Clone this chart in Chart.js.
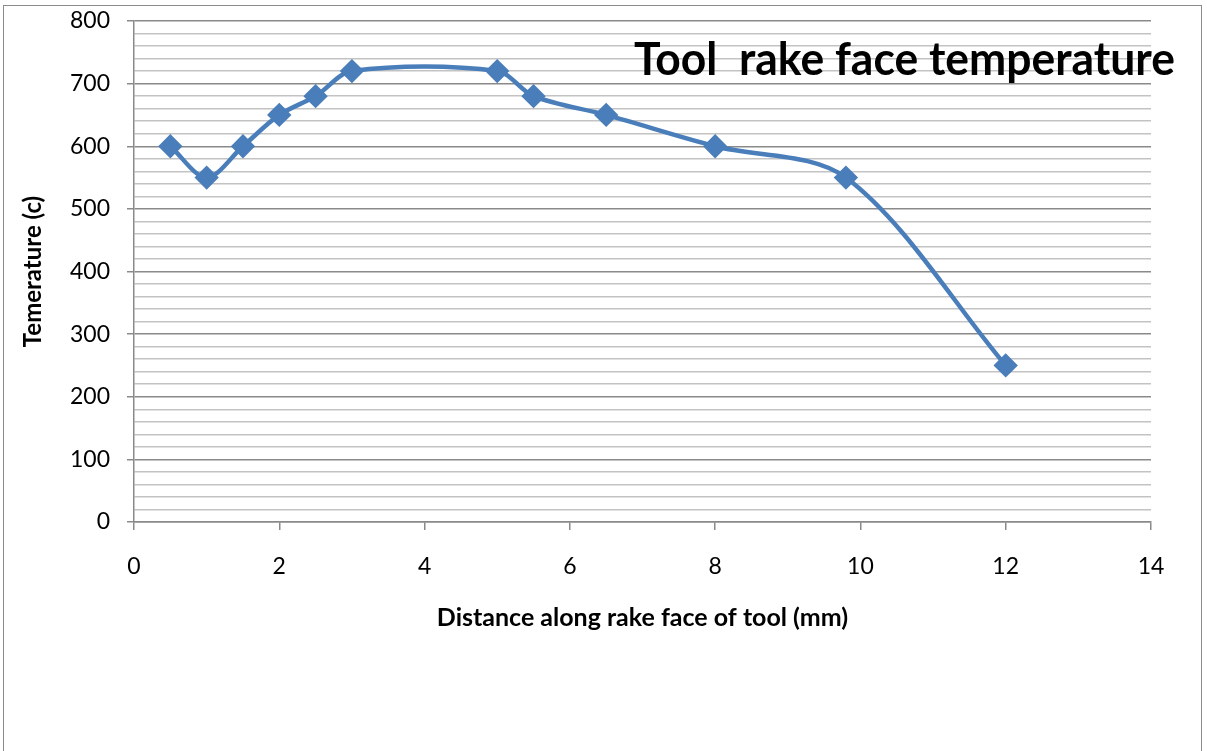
<!DOCTYPE html>
<html>
<head>
<meta charset="utf-8">
<script src="https://cdn.jsdelivr.net/npm/chart.js@4"></script>
<style>
  body { margin: 0; background: #fff; }
  #wrap { position: relative; width: 1207px; height: 751px; overflow: hidden; }
  #frame { position: absolute; left: 3px; top: 5px; width: 1199px; height: 800px; border: 1px solid #8c8c8c; box-sizing: border-box; }
  canvas { position: absolute; left: 0; top: 0; }
</style>
</head>
<body>
<div id="wrap">
  <div id="frame"></div>
  <canvas id="rakeChart" width="1207" height="751"></canvas>
</div>
<script>
// Tool rake face temperature vs distance

const distances = [0.5, 1, 1.5, 2, 2.5, 3, 5, 5.5, 6.5, 8, 9.8, 12];
const temperatures = [600, 550, 600, 650, 680, 720, 720, 680, 650, 600, 550, 250];

const chartTitle = "Tool  rake face temperature";
const xTitle = "Distance along rake face of tool (mm)";
const yTitle = "Temerature (c)";

const majorGrid = "#8a8a8a";
const minorGrid = "#c3c3c3";
const lineBlue = "#4a7ebb";

// Title sits inside the plot, top right, like the original sheet chart
const insideTitle = {
  id: "insideTitle",
  afterDraw(chart) {
    const ctx = chart.ctx;
    ctx.save();
    ctx.font = "bold 45px Lato";
    ctx.fillStyle = "#000";
    ctx.textBaseline = "alphabetic";
    ctx.textAlign = "left";
    ctx.fillText(chartTitle, 634, 75, 541);
    ctx.restore();
  }
};

const data = distances.map((d, i) => ({ x: d, y: temperatures[i] }));

new Chart(document.getElementById("rakeChart"), {
  type: "line",
  data: {
    datasets: [{
      data: data,
      borderColor: lineBlue,
      backgroundColor: lineBlue,
      borderWidth: 4.5,
      tension: 0.32,
      pointStyle: "rectRot",
      pointRadius: 9,
      pointHoverRadius: 9,
      pointBackgroundColor: lineBlue,
      pointBorderColor: lineBlue,
      fill: false
    }]
  },
  options: {
    responsive: false,
    animation: false,
    layout: { padding: { left: 0, top: 21, right: 56, bottom: 118 } },
    plugins: {
      legend: { display: false },
      tooltip: { enabled: false }
    },
    scales: {
      x: {
        type: "linear",
        min: 0,
        max: 14,
        ticks: { stepSize: 2, color: "#000", font: { family: "Lato", size: 23 }, padding: 23, maxRotation: 0 },
        grid: { drawOnChartArea: false, tickLength: 8, color: majorGrid, lineWidth: 1.5 },
        border: { color: majorGrid, width: 1.5 },
        title: { display: true, text: xTitle, color: "#000", font: { family: "Lato", size: 25, weight: "bold" }, padding: { top: 4, bottom: 0 } },
        afterFit(scale) { scale.height = 111; }
      },
      y: {
        min: 0,
        max: 800,
        ticks: {
          stepSize: 20,
          autoSkip: false,
          color: "#000",
          font: { family: "Lato", size: 23 },
          padding: 17,
          callback: v => (v % 100 === 0 ? v : "")
        },
        grid: {
          tickLength: 7,
          lineWidth: 1.5,
          color: c => (c.tick && c.tick.value % 100 === 0 ? majorGrid : minorGrid),
          tickColor: c => (c.tick && c.tick.value % 100 === 0 ? majorGrid : "rgba(0,0,0,0)")
        },
        border: { color: majorGrid, width: 1.5 },
        title: { display: true, text: yTitle, color: "#000", font: { family: "Lato", size: 24, weight: "bold" }, padding: { top: 19, bottom: 0 } },
        afterFit(scale) {
          scale.width = 134;
          // let the layout padding alone fix the plot top
          scale.paddingTop = 0;
          scale.paddingBottom = 0;
        }
      }
    }
  },
  plugins: [insideTitle]
});
</script>
</body>
</html>
